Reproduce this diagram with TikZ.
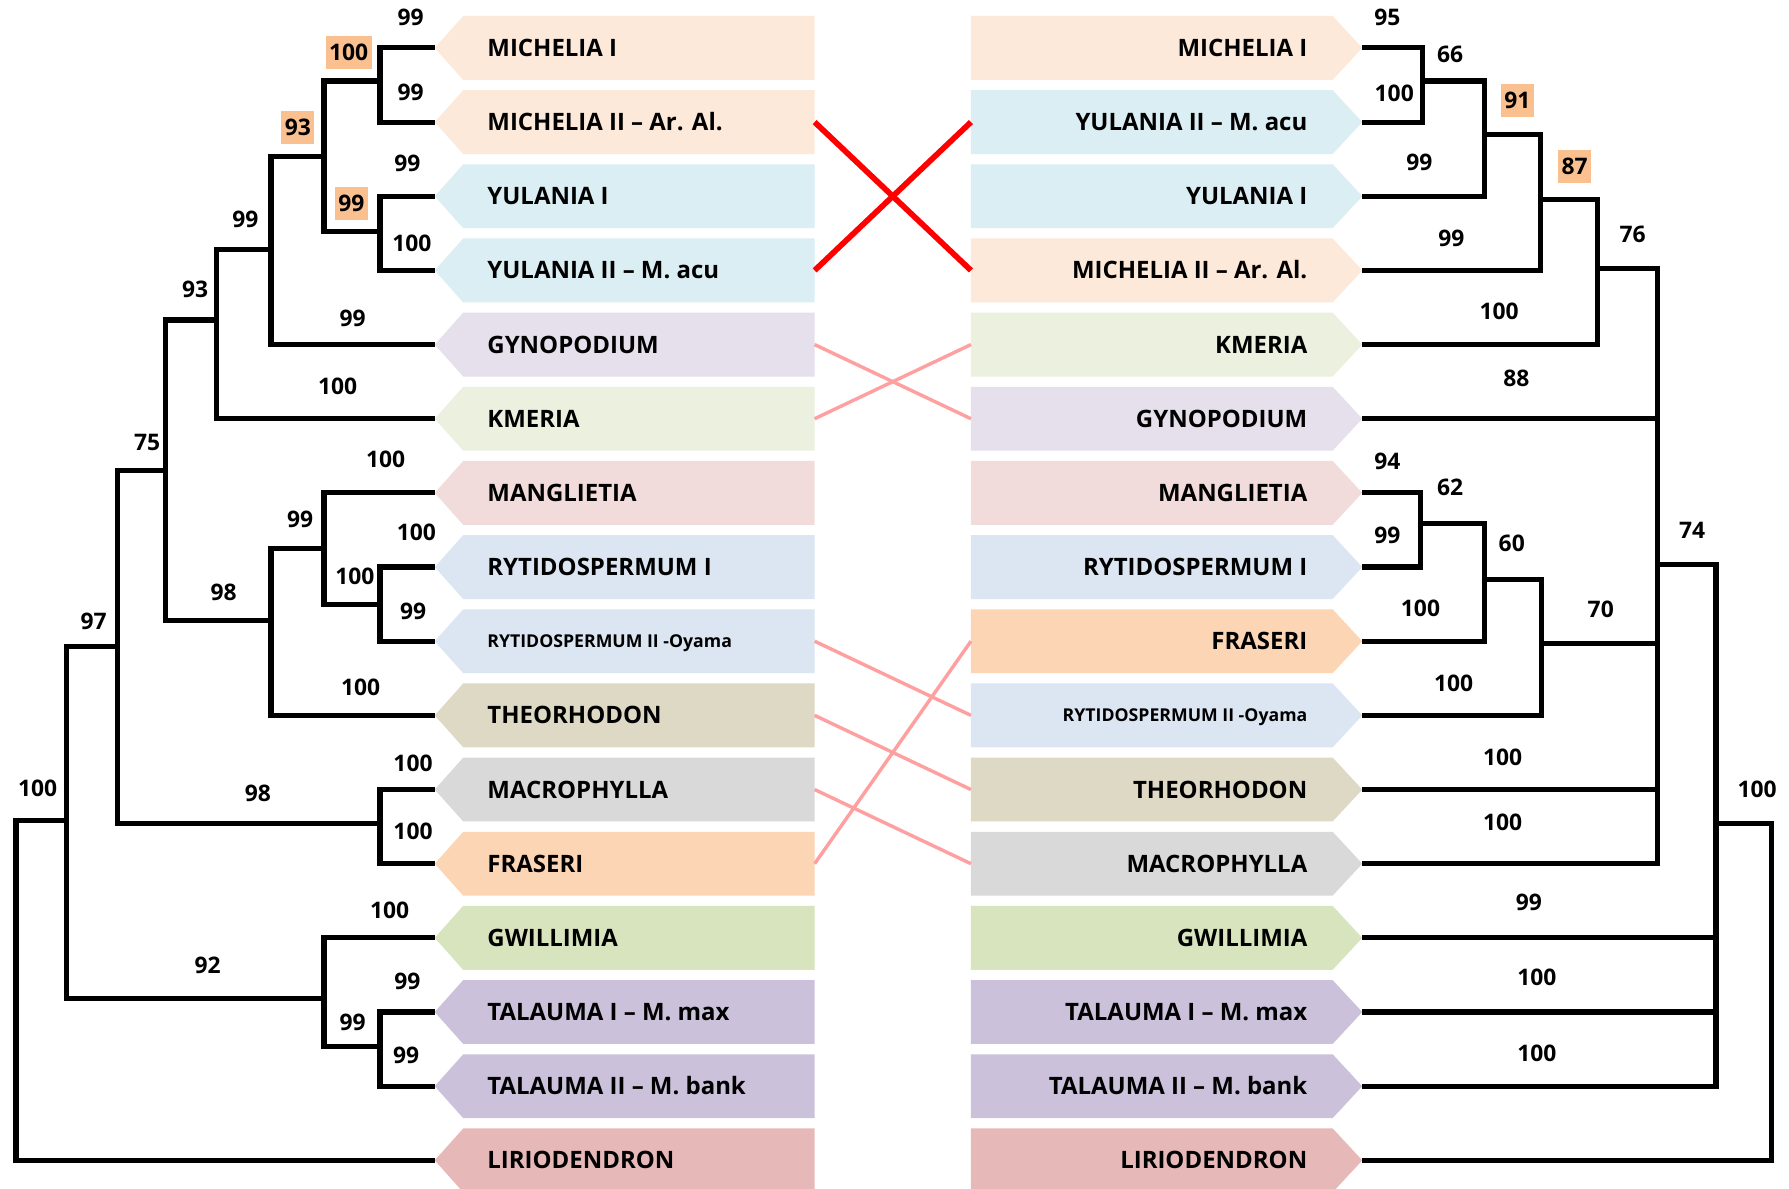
\documentclass[tikz,border=0pt]{standalone}
\usepackage{fontspec}
\setmainfont{Open Sans}

% box fills
\definecolor{cMich}{HTML}{FDE9D9}
\definecolor{cYul}{HTML}{DAEEF3}
\definecolor{cGyno}{HTML}{E5E0EC}
\definecolor{cKmer}{HTML}{EBF1DE}
\definecolor{cMang}{HTML}{F2DCDB}
\definecolor{cRyt}{HTML}{DCE6F2}
\definecolor{cTheo}{HTML}{DDD9C4}
\definecolor{cMacro}{HTML}{D9D9D9}
\definecolor{cFras}{HTML}{FCD5B5}
\definecolor{cGwil}{HTML}{D7E4BD}
\definecolor{cTal}{HTML}{CCC1DA}
\definecolor{cLiri}{HTML}{E6B9B8}
\definecolor{cHigh}{HTML}{FAC090}
\definecolor{cPink}{HTML}{FFA0A0}

% taxon box pointing left (tip at x=381)
\newcommand\leftleaf[5]{%
  \fill[#3] (381,#2) -- (406,#2-28) -- (714,#2-28) -- (714,#2+28) -- (406,#2+28) -- cycle;
  \coordinate (L#1) at (381,#2);
  \coordinate (Le#1) at (714,#2);
  \node[anchor=base west, inner sep=0pt, font={\fontsize{#4}{#4}\selectfont\bfseries}]
    (tL#1) at (427,#2+0.357*#4) {#5};
}
% taxon box pointing right (tip at x=1194)
\newcommand\rightleaf[5]{%
  \fill[#3] (851,#2-28) -- (1168,#2-28) -- (1194,#2) -- (1168,#2+28) -- (851,#2+28) -- cycle;
  \coordinate (R#1) at (1194,#2);
  \coordinate (Rw#1) at (851,#2);
  \node[anchor=base east, inner sep=0pt, font={\fontsize{#4}{#4}\selectfont\bfseries}]
    (tR#1) at (1146,#2+0.357*#4) {#5};
}

\begin{document}
\begin{tikzpicture}[x=1pt,y=-1pt,
  branch/.style={line width=4.5pt, line join=miter, line cap=butt},
  swapred/.style={line width=5pt, red},
  swappink/.style={line width=3pt, cPink},
  lab/.style={inner sep=0pt, font={\fontsize{20}{20}\selectfont\bfseries}},
  hl/.style={lab, fill=cHigh, inner xsep=3pt, minimum height=29pt}]

\fill[white] (0,0) rectangle (1568,1042);
\useasboundingbox (0,0) rectangle (1568,1042);

% ---------- left tree: taxa ----------
\leftleaf{1}{42}{cMich}{21}{MICHELIA I}
\leftleaf{2}{107}{cMich}{21}{MICHELIA II – Ar. Al.}
\leftleaf{3}{172}{cYul}{21}{YULANIA I}
\leftleaf{4}{237}{cYul}{21}{YULANIA II – M. acu}
\leftleaf{5}{302}{cGyno}{21}{GYNOPODIUM}
\leftleaf{6}{367}{cKmer}{21}{KMERIA}
\leftleaf{7}{432}{cMang}{21}{MANGLIETIA}
\leftleaf{8}{497}{cRyt}{21}{RYTIDOSPERMUM I}
\leftleaf{9}{562}{cRyt}{15.5}{RYTIDOSPERMUM II -Oyama}
\leftleaf{10}{627}{cTheo}{21}{THEORHODON}
\leftleaf{11}{692}{cMacro}{21}{MACROPHYLLA}
\leftleaf{12}{757}{cFras}{21}{FRASERI}
\leftleaf{13}{822}{cGwil}{21}{GWILLIMIA}
\leftleaf{14}{887}{cTal}{21}{TALAUMA I – M. max}
\leftleaf{15}{952}{cTal}{21}{TALAUMA II – M. bank}
\leftleaf{16}{1017}{cLiri}{21}{LIRIODENDRON}

% ---------- right tree: taxa ----------
\rightleaf{1}{42}{cMich}{21}{MICHELIA I}
\rightleaf{2}{107}{cYul}{21}{YULANIA II – M. acu}
\rightleaf{3}{172}{cYul}{21}{YULANIA I}
\rightleaf{4}{237}{cMich}{21}{MICHELIA II – Ar. Al.}
\rightleaf{5}{302}{cKmer}{21}{KMERIA}
\rightleaf{6}{367}{cGyno}{21}{GYNOPODIUM}
\rightleaf{7}{432}{cMang}{21}{MANGLIETIA}
\rightleaf{8}{497}{cRyt}{21}{RYTIDOSPERMUM I}
\rightleaf{9}{562}{cFras}{21}{FRASERI}
\rightleaf{10}{627}{cRyt}{15.5}{RYTIDOSPERMUM II -Oyama}
\rightleaf{11}{692}{cTheo}{21}{THEORHODON}
\rightleaf{12}{757}{cMacro}{21}{MACROPHYLLA}
\rightleaf{13}{822}{cGwil}{21}{GWILLIMIA}
\rightleaf{14}{887}{cTal}{21}{TALAUMA I – M. max}
\rightleaf{15}{952}{cTal}{21}{TALAUMA II – M. bank}
\rightleaf{16}{1017}{cLiri}{21}{LIRIODENDRON}

% ---------- left tree: internal nodes ----------
\coordinate (nA) at (333,71);
\coordinate (nB) at (333,203);
\coordinate (nC) at (284,137);
\coordinate (nD) at (237.5,219);
\coordinate (nE) at (190,280.5);
\coordinate (nF) at (333,530);
\coordinate (nG) at (284,480.5);
\coordinate (nH) at (237.5,544);
\coordinate (nI) at (145,412);
\coordinate (nJ) at (333,722);
\coordinate (nK) at (103,567);
\coordinate (nL) at (333,917);
\coordinate (nM) at (284,875);
\coordinate (nN) at (58,719);
\coordinate (nR) at (14,867);

\draw[branch] (L1) -| (nA);  \draw[branch] (L2) -| (nA);
\draw[branch] (L3) -| (nB);  \draw[branch] (L4) -| (nB);
\draw[branch] (nA) -| (nC);  \draw[branch] (nB) -| (nC);
\draw[branch] (nC) -| (nD);  \draw[branch] (L5) -| (nD);
\draw[branch] (nD) -| (nE);  \draw[branch] (L6) -| (nE);
\draw[branch] (L8) -| (nF);  \draw[branch] (L9) -| (nF);
\draw[branch] (L7) -| (nG);  \draw[branch] (nF) -| (nG);
\draw[branch] (nG) -| (nH);  \draw[branch] (L10) -| (nH);
\draw[branch] (nE) -| (nI);  \draw[branch] (nH) -| (nI);
\draw[branch] (L11) -| (nJ); \draw[branch] (L12) -| (nJ);
\draw[branch] (nI) -| (nK);  \draw[branch] (nJ) -| (nK);
\draw[branch] (L14) -| (nL); \draw[branch] (L15) -| (nL);
\draw[branch] (L13) -| (nM); \draw[branch] (nL) -| (nM);
\draw[branch] (nK) -| (nN);  \draw[branch] (nM) -| (nN);
\draw[branch] (nN) -| (nR);  \draw[branch] (L16) -| (nR);

% ---------- right tree: internal nodes ----------
\coordinate (rA) at (1247,71);
\coordinate (rB) at (1301,118);
\coordinate (rC) at (1350,175);
\coordinate (rD) at (1400,235);
\coordinate (rE) at (1453,494.5);
\coordinate (rF) at (1245,458.5);
\coordinate (rG) at (1301,508);
\coordinate (rH) at (1351,564);
\coordinate (rI) at (1504,722);
\coordinate (rR) at (1553,870);

\draw[branch] (R1) -| (rA);  \draw[branch] (R2) -| (rA);
\draw[branch] (rA) -| (rB);  \draw[branch] (R3) -| (rB);
\draw[branch] (rB) -| (rC);  \draw[branch] (R4) -| (rC);
\draw[branch] (rC) -| (rD);  \draw[branch] (R5) -| (rD);
\draw[branch] (rD) -| (rE);  \draw[branch] (R6) -| (rE);
\draw[branch] (R7) -| (rF);  \draw[branch] (R8) -| (rF);
\draw[branch] (rF) -| (rG);  \draw[branch] (R9) -| (rG);
\draw[branch] (rG) -| (rH);  \draw[branch] (R10) -| (rH);
\draw[branch] (rH) -| (rE);  \draw[branch] (R11) -| (rE);
\draw[branch] (R12) -| (rE);
\draw[branch] (rE) -| (rI);  \draw[branch] (R13) -| (rI);
\draw[branch] (R14) -| (rI); \draw[branch] (R15) -| (rI);
\draw[branch] (rI) -| (rR);  \draw[branch] (R16) -| (rR);

% ---------- left support values ----------
\node[lab] (a1) at (360,15) {99};
\node[hl]  (a2) at (305.5,46) {100};
\node[lab] (a3) at (360,81) {99};
\node[hl]  (a4) at (261,112) {93};
\node[lab] (a5) at (357,143) {99};
\node[hl]  (a6) at (308,178) {99};
\node[lab] (a7) at (361,213) {100};
\node[lab] (a8) at (215,192) {99};
\node[lab] (a9) at (171,254) {93};
\node[lab] (a10) at (309,279) {99};
\node[lab] (a11) at (296,339) {100};
\node[lab] (a12) at (129,388) {75};
\node[lab] (a13) at (338,403) {100};
\node[lab] (a14) at (263,455) {99};
\node[lab] (a15) at (365,467) {100};
\node[lab] (a16) at (311,505) {100};
\node[lab] (a17) at (362,536) {99};
\node[lab] (a18) at (196,519) {98};
\node[lab] (a19) at (316,602) {100};
\node[lab] (a20) at (82,545) {97};
\node[lab] (a21) at (362,669) {100};
\node[lab] (a22) at (226,695) {98};
\node[lab] (a23) at (362,729) {100};
\node[lab] (a24) at (33,691) {100};
\node[lab] (a25) at (341.5,797.5) {100};
\node[lab] (a26) at (182,846) {92};
\node[lab] (a27) at (357,860) {99};
\node[lab] (a28) at (309,896) {99};
\node[lab] (a29) at (356,925) {99};

% ---------- right support values ----------
\node[lab] (b1) at (1216,15) {95};
\node[lab] (b2) at (1222,82) {100};
\node[lab] (b3) at (1271,48) {66};
\node[lab] (b4) at (1244,142) {99};
\node[hl]  (b5) at (1330,88) {91};
\node[lab] (b6) at (1272,209) {99};
\node[hl]  (b7) at (1380,146) {87};
\node[lab] (b8) at (1314,273) {100};
\node[lab] (b9) at (1431,205) {76};
\node[lab] (b10) at (1329,332) {88};
\node[lab] (b11) at (1216,404) {94};
\node[lab] (b12) at (1216,469) {99};
\node[lab] (b13) at (1271,427) {62};
\node[lab] (b14) at (1245,533) {100};
\node[lab] (b15) at (1325,476) {60};
\node[lab] (b16) at (1274,599) {100};
\node[lab] (b17) at (1403,534) {70};
\node[lab] (b18) at (1317,664) {100};
\node[lab] (b19) at (1317,721) {100};
\node[lab] (b20) at (1483,465) {74};
\node[lab] (b21) at (1540,692) {100};
\node[lab] (b22) at (1340,791) {99};
\node[lab] (b23) at (1347,857) {100};
\node[lab] (b24) at (1347,923) {100};

% ---------- taxa that change place between the two trees ----------
\draw[swapred] (Le2) -- (Rw4);
\draw[swapred] (Le4) -- (Rw2);
\draw[swappink] (Le5) -- (Rw6);
\draw[swappink] (Le6) -- (Rw5);
\draw[swappink] (Le9) -- (Rw10);
\draw[swappink] (Le10) -- (Rw11);
\draw[swappink] (Le11) -- (Rw12);
\draw[swappink] (Le12) -- (Rw9);

\end{tikzpicture}
\end{document}
